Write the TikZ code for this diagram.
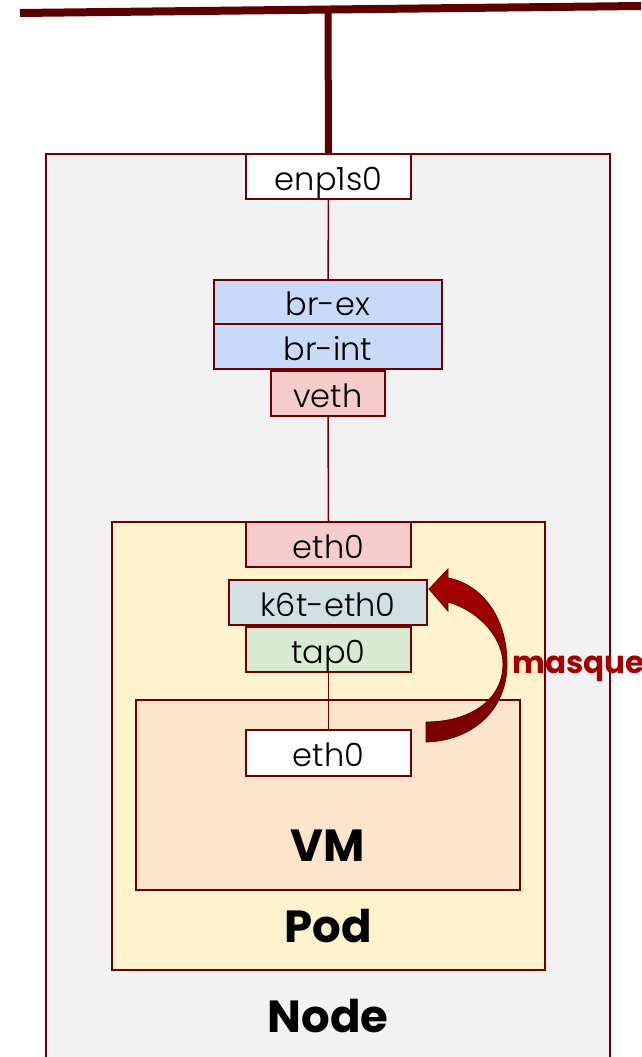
\documentclass[tikz,border=0pt]{standalone}
\usepackage{fontspec}
\setmainfont{Poppins}
\newfontfamily\ifacefont{Poppins Light}
\definecolor{edge}{HTML}{6E0000}
\definecolor{bar}{HTML}{5C0000}
\definecolor{nodefill}{HTML}{F2F2F2}
\definecolor{podfill}{HTML}{FFF2CC}
\definecolor{vmfill}{HTML}{FCE5CD}
\definecolor{brfill}{HTML}{C9DAF8}
\definecolor{pinkfill}{HTML}{F4CCCC}
\definecolor{kfill}{HTML}{D0E0E3}
\definecolor{tapfill}{HTML}{D9EAD3}
\definecolor{masq}{HTML}{A50000}
\definecolor{arrowtop}{HTML}{A80000}
\definecolor{arrowbot}{HTML}{760000}
\tikzset{
  container/.style={draw=edge, line width=1.4pt, inner sep=0pt},
  iface/.style={draw=edge, line width=1.6pt, inner sep=0pt,
    font=\ifacefont\fontsize{32}{36}\selectfont, text height=27pt, text depth=0pt},
  title/.style={font=\fontsize{45}{48}\selectfont\bfseries, inner sep=0pt},
  link/.style={draw=edge, line width=1.5pt},
}
\begin{document}
\begin{tikzpicture}[x=1pt, y=-1pt]
\useasboundingbox (0,0) rectangle (641,1057);

% uplink bar
\draw[bar, line width=8pt] (20,13) -- (641,6);
\coordinate (up) at (328,10);

% nested containers
\node[container, fill=nodefill, minimum width=564pt, minimum height=916pt] (nodebox) at (328,612) {};
\node[container, fill=podfill, minimum width=433pt, minimum height=448pt] (podbox) at (328.5,746) {};
\node[container, fill=vmfill, minimum width=384pt, minimum height=190pt] (vmbox) at (328,795) {};

% host interfaces
\node[iface, fill=white, minimum width=165pt, minimum height=45pt] (enp) at (328.5,176.5) {enp1s0};
\node[iface, fill=brfill, minimum width=228pt, minimum height=44pt] (brex) at (328,302) {br-ex};
\node[iface, fill=brfill, minimum width=228pt, minimum height=45pt] (brint) at (328,346.5) {br-int};
\node[iface, fill=pinkfill, minimum width=114pt, minimum height=45pt] (veth) at (328,393.5) {veth};

% pod interfaces
\node[iface, fill=pinkfill, minimum width=165pt, minimum height=45pt] (podeth) at (328.5,544.5) {eth0};
\node[iface, fill=kfill, minimum width=198pt, minimum height=45pt] (k6t) at (328,602.5) {k6t-eth0};
\node[iface, fill=tapfill, minimum width=165pt, minimum height=45pt] (tap) at (328.5,649.5) {tap0};

% guest interface
\node[iface, fill=white, minimum width=165pt, minimum height=46pt] (vmeth) at (328.5,753) {eth0};

% container titles
\node[title] (vmlabel) at (328,846) {VM};
\node[title] (podlabel) at (328,926) {Pod};
\node[title] (nodelabel) at (328,1016) {Node};

% links
\draw[bar, line width=7pt] (up) -- (enp.north);
\draw[link] (enp.south) -- (brex.north);
\draw[link] (veth.south) -- (podeth.north);
\draw[link] (tap.south) -- (vmeth.north);

% masquerade arrow
\shade[top color=arrowtop, bottom color=arrowbot, draw=bar, line width=0.8pt]
  (426,742) .. controls (470,741) and (507,712) .. (507,664)
  .. controls (507,615) and (480,584) .. (448,578)
  -- (448,569) -- (429,589) -- (448,611) -- (448,602)
  .. controls (482,612) and (503,640) .. (503,664)
  .. controls (503,700) and (470,722) .. (426,722) -- cycle;
\node[anchor=base west, inner sep=0pt, text=masq, font=\fontsize{31}{34}\selectfont\bfseries] (masqlabel) at (512,673) {masquerade};
\end{tikzpicture}
\end{document}
